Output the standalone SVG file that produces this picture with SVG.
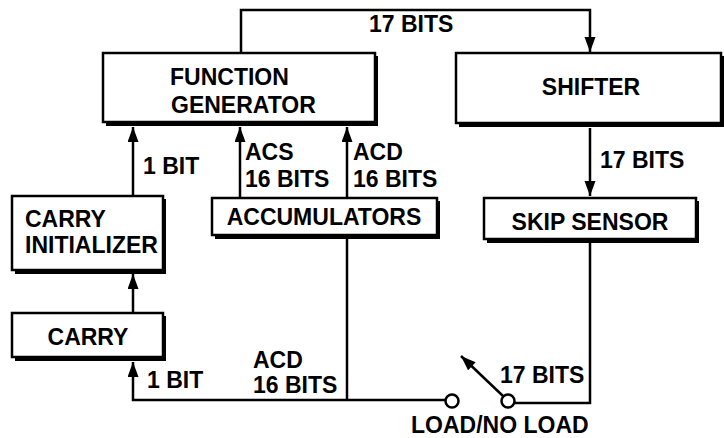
<svg xmlns="http://www.w3.org/2000/svg" width="724" height="438" viewBox="0 0 724 438">
<style>
.box{fill:#fff;stroke:#000;stroke-width:2.5}
.sh{fill:#000}
.ln{fill:none;stroke:#000;stroke-width:2.5}
text{font-family:"Liberation Sans",Arial,sans-serif;font-size:23px;font-weight:bold;fill:#000}
.m{text-anchor:middle}
</style>
<defs>
<marker id="ah" markerUnits="userSpaceOnUse" markerWidth="16" markerHeight="12" refX="15" refY="5.5" orient="auto">
<path d="M0,0 L15,5.5 L0,11 Z" fill="#000"/>
</marker>
</defs>
<rect width="724" height="438" fill="#fff"/>
<g id="connectors">
<path class="ln" d="M241,52 V10 H590 V52" marker-end="url(#ah)"/>
<path class="ln" d="M133,195 V127" marker-end="url(#ah)"/>
<path class="ln" d="M133,312 V274" marker-end="url(#ah)"/>
<path class="ln" d="M240,197 V127" marker-end="url(#ah)"/>
<path class="ln" d="M347,197 V127" marker-end="url(#ah)"/>
<path class="ln" d="M590,128 V196" marker-end="url(#ah)"/>
<path class="ln" d="M590,243 V403 H515"/>
<path class="ln" d="M347,239 V400"/>
<path class="ln" d="M445,400 H133 V362" marker-end="url(#ah)"/>
<path class="ln" d="M503,396 L461,356" marker-end="url(#ah)"/>
<circle cx="452" cy="401" r="6.5" fill="#fff" stroke="#000" stroke-width="2.5"/>
<circle cx="508" cy="401" r="6.5" fill="#fff" stroke="#000" stroke-width="2.5"/>
<text x="369" y="32">17 BITS</text>
<text x="600" y="168">17 BITS</text>
<text x="143" y="174">1 BIT</text>
<text x="245" y="160">ACS</text>
<text x="245" y="187">16 BITS</text>
<text x="353" y="160">ACD</text>
<text x="353" y="187">16 BITS</text>
<text x="147" y="388">1 BIT</text>
<text x="253" y="368">ACD</text>
<text x="253" y="393">16 BITS</text>
<text x="500" y="383">17 BITS</text>
<text x="411" y="433">LOAD/NO LOAD</text>
</g>
<g id="function-generator">
<rect class="sh" x="106" y="56" width="272" height="70"/>
<rect class="box" x="103" y="53" width="272" height="69"/>
<text x="170" y="85">FUNCTION</text>
<text x="171" y="113">GENERATOR</text>
</g>
<g id="shifter">
<rect class="sh" x="459" y="56" width="265" height="71"/>
<rect class="box" x="456" y="53" width="265" height="70"/>
<text class="m" x="591" y="95">SHIFTER</text>
</g>
<g id="skip-sensor">
<rect class="sh" x="487" y="201" width="212" height="42"/>
<rect class="box" x="484" y="198" width="212" height="41"/>
<text class="m" x="590" y="230">SKIP SENSOR</text>
</g>
<g id="accumulators">
<rect class="sh" x="215" y="201" width="225" height="38"/>
<rect class="box" x="212" y="198" width="225" height="37"/>
<text class="m" x="324" y="225">ACCUMULATORS</text>
</g>
<g id="carry-initializer">
<rect class="sh" x="15" y="199" width="151" height="75"/>
<rect class="box" x="12" y="196" width="151" height="74"/>
<text x="25" y="227">CARRY</text>
<text x="25" y="253">INITIALIZER</text>
</g>
<g id="carry">
<rect class="sh" x="15" y="316" width="151" height="45"/>
<rect class="box" x="12" y="313" width="151" height="44"/>
<text class="m" x="88" y="345">CARRY</text>
</g>
</svg>
